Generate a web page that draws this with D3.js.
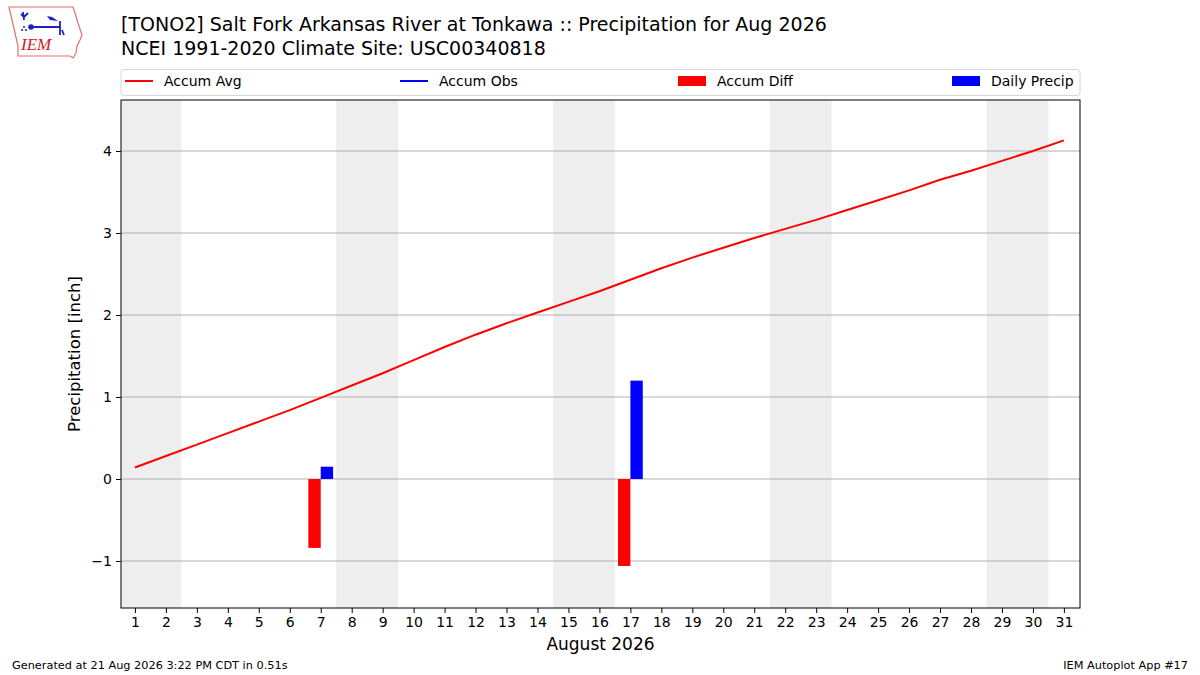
<!DOCTYPE html>
<html>
<head>
<meta charset="utf-8">
<script src="https://cdn.jsdelivr.net/npm/d3@7"></script>
<style>
  body { margin: 0; background: #fff; }
  text { font-family: "DejaVu Sans", sans-serif; fill: #000; }
</style>
</head>
<body>
<svg id="chart" width="1200" height="675"></svg>
<script>
const days = d3.range(1, 32);
// accumulated climatology (inch)
const accumAvg = [0.14, 0.28, 0.42, 0.56, 0.70, 0.84, 0.99, 1.14, 1.29, 1.45,
  1.61, 1.76, 1.90, 2.03, 2.16, 2.29, 2.43, 2.57, 2.70, 2.82,
  2.94, 3.05, 3.16, 3.28, 3.40, 3.52, 3.65, 3.76, 3.88, 4.00, 4.13];
const precipDays = [7, 17];
const dailyPrecip = [0.15, 1.20];
const accumDiff = [-0.84, -1.06];
const weekends = [[1, 2], [8, 9], [15, 16], [22, 23], [29, 30]];
const yTicks = [-1, 0, 1, 2, 3, 4];

const margin = { left: 121, right: 1080, top: 100, bottom: 608 };

const svg = d3.select("#chart");

const x = d3.scaleLinear().domain([0.55, 31.52]).range([margin.left, margin.right]);
const y = d3.scaleLinear().domain([-1.573, 4.622]).range([margin.bottom, margin.top]);

svg.append("defs").append("clipPath").attr("id", "clip")
  .append("rect")
  .attr("x", margin.left).attr("y", margin.top)
  .attr("width", margin.right - margin.left)
  .attr("height", margin.bottom - margin.top);

const plot = svg.append("g").attr("clip-path", "url(#clip)");

// weekend shading
plot.selectAll("rect.wk")
  .data(weekends)
  .enter()
  .append("rect")
  .attr("class", "wk")
  .attr("x", (d) => x(d[0] - 0.5))
  .attr("width", (d) => x(d[1] + 0.5) - x(d[0] - 0.5))
  .attr("y", margin.top)
  .attr("height", margin.bottom - margin.top)
  .attr("fill", "#eeeeee");

// grid
plot.selectAll("line.grid")
  .data(yTicks)
  .enter()
  .append("line")
  .attr("x1", margin.left).attr("x2", margin.right)
  .attr("y1", (d) => y(d)).attr("y2", (d) => y(d))
  .attr("stroke", "#b0b0b0").attr("stroke-width", 1);

const barW = 0.4;

plot.selectAll("rect.diff")
  .data(precipDays)
  .enter()
  .append("rect")
  .attr("x", (d) => x(d - barW))
  .attr("width", x(barW) - x(0))
  .attr("y", (d, i) => y(Math.max(0, accumDiff[i])))
  .attr("height", (d, i) => Math.abs(y(accumDiff[i]) - y(0)))
  .attr("fill", "#ff0000");

plot.selectAll("rect.obs")
  .data(precipDays)
  .enter()
  .append("rect")
  .attr("x", (d) => x(d))
  .attr("width", x(barW) - x(0))
  .attr("y", (d, i) => y(dailyPrecip[i]))
  .attr("height", (d, i) => y(0) - y(dailyPrecip[i]))
  .attr("fill", "#0000ff");

plot.append("path")
  .datum(days)
  .attr("fill", "none")
  .attr("stroke", "#ff0000")
  .attr("stroke-width", 2)
  .attr("d", d3.line().x((d) => x(d)).y((d, i) => y(accumAvg[i])));

// axes
const xAxis = svg.append("g")
  .attr("transform", "translate(0," + margin.bottom + ")")
  .call(d3.axisBottom(x).tickValues(days).tickFormat(d3.format("d")).tickSize(5).tickPadding(4));
const yAxis = svg.append("g")
  .attr("transform", "translate(" + margin.left + ",0)")
  .call(d3.axisLeft(y).tickValues(yTicks).tickFormat((d) => d < 0 ? "\u2212" + Math.abs(d) : d).tickSize(5).tickPadding(4));
[xAxis, yAxis].forEach((a) => {
  a.select(".domain").remove();
  a.selectAll("text").style("font-size", "14px").style("font-family", "DejaVu Sans");
  a.selectAll("line").attr("stroke", "#000");
});

svg.append("rect")
  .attr("x", margin.left).attr("y", margin.top)
  .attr("width", margin.right - margin.left)
  .attr("height", margin.bottom - margin.top)
  .attr("fill", "none").attr("stroke", "#000").attr("stroke-width", 1);

svg.append("text")
  .attr("x", (margin.left + margin.right) / 2).attr("y", 650)
  .attr("text-anchor", "middle").style("font-size", "17px")
  .text("August 2026");
svg.append("text")
  .attr("transform", "translate(80," + (margin.top + margin.bottom) / 2 + ") rotate(-90)")
  .attr("text-anchor", "middle").style("font-size", "16.5px")
  .text("Precipitation [inch]");

// titles
svg.append("text").attr("x", 121).attr("y", 31).style("font-size", "19px")
  .text("[TONO2] Salt Fork Arkansas River at Tonkawa :: Precipitation for Aug 2026");
svg.append("text").attr("x", 121).attr("y", 55).style("font-size", "19px")
  .text("NCEI 1991-2020 Climate Site: USC00340818");

// legend
const lg = svg.append("g");
lg.append("rect")
  .attr("x", 121).attr("y", 69.5).attr("width", 959).attr("height", 26)
  .attr("rx", 3).attr("fill", "#fff").attr("stroke", "#d6d6d6");
const legendItems = [
  { label: "Accum Avg", color: "#ff0000", kind: "line", x: 125 },
  { label: "Accum Obs", color: "#0000ff", kind: "line", x: 400 },
  { label: "Accum Diff", color: "#ff0000", kind: "patch", x: 678 },
  { label: "Daily Precip", color: "#0000ff", kind: "patch", x: 952 },
];
legendItems.forEach((it) => {
  if (it.kind === "line") {
    lg.append("line").attr("x1", it.x).attr("x2", it.x + 28)
      .attr("y1", 81).attr("y2", 81)
      .attr("stroke", it.color).attr("stroke-width", 2);
  } else {
    lg.append("rect").attr("x", it.x).attr("y", 76).attr("width", 28).attr("height", 10)
      .attr("fill", it.color);
  }
  lg.append("text").attr("x", it.x + 39).attr("y", 86)
    .style("font-size", "14px").text(it.label);
});

// footer
svg.append("text").attr("x", 12).attr("y", 669).style("font-size", "11.3px")
  .text("Generated at 21 Aug 2026 3:22 PM CDT in 0.51s");
svg.append("text").attr("x", 1188).attr("y", 669).attr("text-anchor", "end")
  .style("font-size", "11.3px").text("IEM Autoplot App #17");

// logo
const logo = svg.append("g");
logo.append("path")
  .attr("d", "M9,7 L73,7 L75,13 L78,23 L82,35 L80,40 L77,46 L76,53 L73,58 L70,56 L18,56 L18,46 L15,33 L12,20 Z")
  .attr("fill", "none").attr("stroke", "#e07070").attr("stroke-width", 1.2);
logo.append("path")
  .attr("d", "M31,27 L60,27 M60,21 L60,35 M62,30 L64,35 M24,20 L23,12 M24,17 L28,13 M24,17 L21,14")
  .attr("fill", "none").attr("stroke", "#2020c0").attr("stroke-width", 1.8);
logo.append("path")
  .attr("d", "M47,16 L52,17 L58,21 L50,20 Z")
  .attr("fill", "#2020c0");
logo.append("circle").attr("cx", 31).attr("cy", 27).attr("r", 2.8).attr("fill", "#2020c0");
[[24, 27], [22, 30], [26, 30]].forEach((p) => {
  logo.append("circle").attr("cx", p[0]).attr("cy", p[1]).attr("r", 1).attr("fill", "#2020c0");
});
logo.append("text").attr("x", 21).attr("y", 50)
  .style("font-family", "Liberation Serif").style("font-style", "italic")
  .style("font-size", "17px").style("fill", "#d02020").text("IEM");
</script>
</body>
</html>
